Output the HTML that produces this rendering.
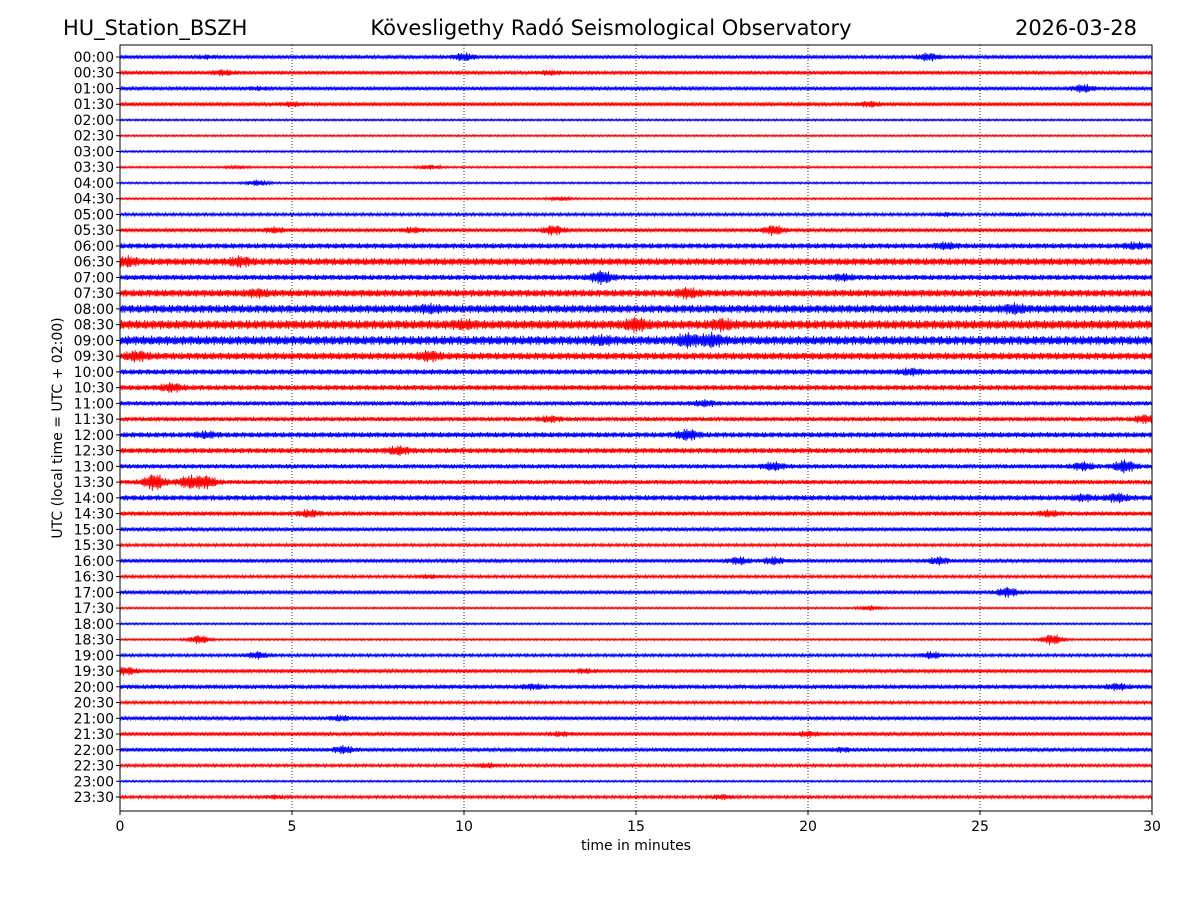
<!DOCTYPE html>
<html><head><meta charset="utf-8"><style>
html,body{margin:0;padding:0;background:#fff;}
svg text{font-family:"DejaVu Sans","Liberation Sans",sans-serif;}
</style></head><body>
<svg id="chart" width="1200" height="900" xmlns="http://www.w3.org/2000/svg">
<rect width="1200" height="900" fill="#fff"/>
<text x="63" y="35" font-size="21">HU_Station_BSZH</text>
<text x="611" y="35" font-size="21" text-anchor="middle">Kövesligethy Radó Seismological Observatory</text>
<text x="1137" y="35" font-size="21" text-anchor="end">2026-03-28</text>
<g id="grid"></g>
<g id="traces"></g>
<g id="axes"></g>
<text x="636" y="850" font-size="14" text-anchor="middle">time in minutes</text>
<text transform="translate(62,428) rotate(-90)" font-size="14" text-anchor="middle">UTC (local time = UTC + 02:00)</text>
</svg>
<script>
const xTicks=[0,5,10,15,20,25,30];
const rowLabels=[];
for(let h=0;h<24;h++){const hh=String(h).padStart(2,'0');rowLabels.push(hh+':00',hh+':30');}
const baseAmp=[2,2,2,2,1,1,1,1,1,1,1.5,2,3,4,3,4,4.5,5,5,4,3,3,2.5,2.5,3,3,2.5,2.5,3,2.5,2,1.5,2,1.5,2,1,1,1,1.5,2,2.5,1.5,2,2,2,1.5,1,1.5];
const bursts=[[[10,3],[23.5,3],[2.5,1]],[[3,2],[12.5,1.5]],[[28,3],[4,1]],[[5,1.5],[21.8,2]],[],[],[],[[9,2],[3.4,1]],[[4,2.5]],[[12.8,1.5]],[[24,1.5],[26,1]],[[12.6,4],[19,4],[4.5,2],[8.5,2]],[[29.5,2],[24,2]],[[3.5,3],[0.2,3]],[[14,5],[21,2]],[[16.5,3],[4,2]],[[26,2.5],[9,2]],[[15,4],[17.5,3],[10,2]],[[16.5,4],[17.2,4],[14,2]],[[0.5,3],[9,3]],[[23,2]],[[1.5,3]],[[17,2]],[[29.8,3],[12.5,2]],[[16.5,4],[2.5,2]],[[8.1,3]],[[19,3],[29.2,5],[28,3]],[[1,7],[2.5,5],[2,5]],[[29,3],[28,2]],[[5.5,2.5],[27,2]],[],[],[[19,3],[18,3],[23.8,3]],[[9,1.5]],[[25.8,4]],[[21.8,2]],[],[[2.3,4],[27.1,5]],[[4,3],[23.6,3]],[[0.2,3],[13.5,1.5]],[[29,2],[12,1.5]],[],[[6.4,2]],[[12.8,1.5],[20,2]],[[6.5,3],[21,1.5]],[[10.7,2]],[],[[17.5,2],[4.5,1.5]]];
const X0=120,X1=1152,Y0=45,Y1=811,R0=57,R1=797;
const xs=t=>X0+(X1-X0)*t/30;
const ys=i=>R0+(R1-R0)*i/47;
const NS='http://www.w3.org/2000/svg';
const mk=(tag,attrs,parent)=>{const e=document.createElementNS(NS,tag);for(const k in attrs)e.setAttribute(k,attrs[k]);parent.appendChild(e);return e;};
const grid=document.getElementById('grid'),tr=document.getElementById('traces'),ax=document.getElementById('axes');
xTicks.slice(1,-1).forEach(t=>{const l=mk('line',{x1:xs(t),x2:xs(t),y1:Y0,y2:Y1,stroke:'#000','stroke-width':0.8,'stroke-dasharray':'1,2'},grid);

});
rowLabels.forEach((lab,i)=>{
 const y=ys(i);let d='';
 const N=1500;
 for(let k=0;k<=N;k++){const t=30*k/N;let a=baseAmp[i]*0.95;
  bursts[i].forEach(b=>{a+=b[1]*1.0*Math.exp(-Math.pow((t-b[0])/0.3,2));});
  a*=0.5+0.5*Math.abs(Math.sin(t*41.3+i*1.3)*Math.cos(t*13.7+i*0.7));
  a=Math.max(a,0.6);
  const s=(k%2?1:-1);
  d+=(k?'L':'M')+xs(t).toFixed(2)+','+(y+s*a).toFixed(2);}
 const p=mk('path',{d:d,fill:'none',stroke:i%2?'#f00':'#00f','stroke-width':0.9},tr);
 
 
 mk('line',{x1:X0-4,x2:X0,y1:y,y2:y,stroke:'#000'},ax);
 const tx=mk('text',{x:X0-6,y:y+5,'font-size':14,'text-anchor':'end'},ax);tx.textContent=lab;
 
 
});
xTicks.forEach(t=>{mk('line',{x1:xs(t),x2:xs(t),y1:Y1,y2:Y1+4,stroke:'#000'},ax);
 const tx=mk('text',{x:xs(t),y:Y1+20,'font-size':14,'text-anchor':'middle'},ax);tx.textContent=t;
 
 });
const fr=mk('rect',{x:X0,y:Y0,width:X1-X0,height:Y1-Y0,fill:'none',stroke:'#000','stroke-width':1},ax);


</script>
</body></html>
